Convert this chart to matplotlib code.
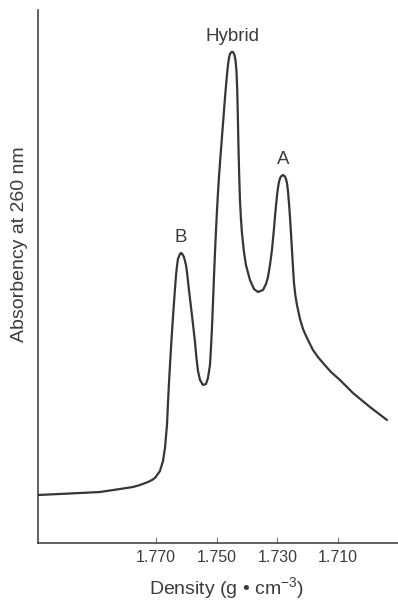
import matplotlib
matplotlib.use("Agg")
import matplotlib.pyplot as plt
import numpy as np

plt.rcParams['font.family'] = ['Liberation Sans', 'DejaVu Sans']
plt.rcParams['mathtext.fontset'] = 'custom'
plt.rcParams['mathtext.rm'] = 'Liberation Sans'
plt.rcParams['mathtext.it'] = 'Liberation Sans'

# Density (g/cm^3) and absorbance (arbitrary units)
density = [1.80891, 1.79835, 1.78846, 1.78187, 1.77758, 1.77528, 1.77264, 1.77132,
           1.77033, 1.76868, 1.76769, 1.76703, 1.76637, 1.76604, 1.76571, 1.76538,
           1.76505, 1.76472, 1.76439, 1.76407, 1.76374, 1.76341, 1.76308, 1.76275,
           1.76209, 1.76176, 1.76143, 1.76077, 1.76011, 1.75978, 1.75945, 1.75912,
           1.75846, 1.75780, 1.75714, 1.75665, 1.75615, 1.75549, 1.75450, 1.75352,
           1.75286, 1.75220, 1.75187, 1.75154, 1.75121, 1.75088, 1.75055, 1.75022,
           1.74989, 1.74956, 1.74923, 1.74890, 1.74857, 1.74824, 1.74791, 1.74758,
           1.74725, 1.74692, 1.74659, 1.74626, 1.74593, 1.74560, 1.74511, 1.74461,
           1.74412, 1.74379, 1.74346, 1.74323, 1.74303, 1.74283, 1.74257, 1.74231,
           1.74198, 1.74165, 1.74099, 1.74033, 1.73901, 1.73769, 1.73637, 1.73472,
           1.73373, 1.73307, 1.73241, 1.73176, 1.73110, 1.73077, 1.73044, 1.73011,
           1.72978, 1.72945, 1.72912, 1.72879, 1.72813, 1.72747, 1.72714, 1.72681,
           1.72648, 1.72615, 1.72582, 1.72549, 1.72516, 1.72483, 1.72450, 1.72401,
           1.72351, 1.72252, 1.72153, 1.72021, 1.71824, 1.71659, 1.71494, 1.71230,
           1.70934, 1.70505, 1.69945, 1.69384]
absorbance = [0.48, 0.495, 0.51, 0.54, 0.56, 0.58, 0.61, 0.63,
              0.65, 0.72, 0.82, 0.95, 1.18, 1.40, 1.60, 1.78,
              1.95, 2.11, 2.26, 2.40, 2.54, 2.67, 2.77, 2.84,
              2.89, 2.90, 2.895, 2.86, 2.78, 2.71, 2.62, 2.53,
              2.36, 2.19, 2.01, 1.85, 1.72, 1.63, 1.58, 1.59,
              1.65, 1.78, 1.95, 2.15, 2.40, 2.66, 2.90, 3.12,
              3.32, 3.50, 3.66, 3.80, 3.93, 4.06, 4.19, 4.32,
              4.45, 4.57, 4.68, 4.78, 4.85, 4.89, 4.91, 4.91,
              4.88, 4.83, 4.72, 4.55, 4.30, 4.00, 3.68, 3.43,
              3.24, 3.10, 2.91, 2.78, 2.63, 2.54, 2.51, 2.53,
              2.59, 2.66, 2.78, 2.93, 3.14, 3.26, 3.37, 3.47,
              3.55, 3.61, 3.645, 3.665, 3.68, 3.665, 3.64, 3.60,
              3.52, 3.40, 3.26, 3.10, 2.93, 2.76, 2.60, 2.47,
              2.38, 2.24, 2.14, 2.05, 1.93, 1.86, 1.80, 1.71,
              1.63, 1.50, 1.36, 1.23]

peak_names = ['B', 'Hybrid', 'A']
peak_density = [1.7618, 1.7446, 1.7281]

tick_values = [1.770, 1.750, 1.730, 1.710]
tick_labels = ['1.770', '1.750', '1.730', '1.710']

ink = '#363636'
text_col = '#3c3c3c'

fig = plt.figure(figsize=(3.98, 6.01), dpi=100)
ax = fig.add_axes([38/398, 58/601, 360/398, 533/601])

ax.plot(density, absorbance, color=ink, lw=1.6, solid_capstyle='round',
        solid_joinstyle='round')

d_arr = np.array(density)
a_arr = np.array(absorbance)
for name, pd_ in zip(peak_names, peak_density):
    i = int(np.argmin(np.abs(d_arr - pd_)))
    ax.annotate(name, (d_arr[i], a_arr[i]), xytext=(0, 5), textcoords='offset points',
                ha='center', va='bottom', fontsize=13.5, color=text_col)

ax.set_xlim(1.8089, 1.6902)
ax.set_ylim(0, 5.33)

for s in ['top', 'right']:
    ax.spines[s].set_visible(False)
for s in ['left', 'bottom']:
    ax.spines[s].set_color(ink)
    ax.spines[s].set_linewidth(1.1)

ax.set_xticks(tick_values)
ax.set_xticklabels(tick_labels)
ax.tick_params(axis='x', direction='in', length=4.5, width=0.8, color='#777777',
               labelsize=11.5, labelcolor=text_col, pad=5)
ax.set_yticks([])

ax.set_xlabel('Density (g • cm$^{-3}$)', fontsize=14, color=text_col)
ax.xaxis.set_label_coords((226-38)/360, (543-588)/533)
ax.xaxis.label.set_va('center')
ax.set_ylabel('Absorbency at 260 nm', fontsize=14, color=text_col)
ax.yaxis.set_label_coords((20-38)/360, (543-244)/533)
ax.yaxis.label.set_va('center')

fig.savefig('out.png', dpi=100, facecolor='white')
